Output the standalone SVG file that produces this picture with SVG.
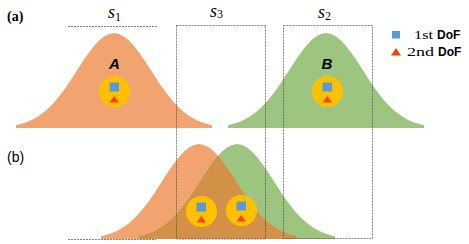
<svg xmlns="http://www.w3.org/2000/svg" xmlns:xlink="http://www.w3.org/1999/xlink" width="469" height="244" viewBox="0 0 469 244">
<style>
.orange{fill:#F1A46F}
.green{fill:#9DC57F}
.brown{fill:#D39148}
.dof{fill:#FFC000}
.sq{fill:#5B9BD5}
.tri{fill:#FF4000}
.box{fill:none;stroke:#555;stroke-width:1;stroke-dasharray:2 1;opacity:0.75}
.lbl{font-family:"Liberation Sans",Arial,sans-serif;font-weight:bold;font-style:italic;font-size:15px;fill:#000;text-anchor:middle}
.s{font-family:"Liberation Serif","Times New Roman",serif;font-style:italic;font-size:18px;fill:#000}
.sub{font-style:normal;font-size:12px}
.leg1{font-family:"Liberation Serif","Times New Roman",serif;font-size:12px;fill:#000}
.leg2{font-family:"Liberation Sans",Arial,sans-serif;font-weight:bold;font-size:12px;fill:#000}
</style>
<defs>
<path id="gauss" d="M-98,0 L-98,-2.8 L-95,-3.5 L-90,-4.9 L-85,-6.8 L-80,-9.2 L-75,-12.2 L-70,-15.9 L-65,-20.3 L-60,-25.5 L-55,-31.5 L-50,-38.1 L-45,-45.3 L-40,-53 L-35,-60.7 L-30,-68.4 L-25,-75.6 L-20,-82.1 L-15,-87.5 L-10,-91.6 L-5,-94.1 L0,-95 L5,-94.1 L10,-91.6 L15,-87.5 L20,-82.1 L25,-75.6 L30,-68.4 L35,-60.7 L40,-53 L45,-45.3 L50,-38.1 L55,-31.5 L60,-25.5 L65,-20.3 L70,-15.9 L75,-12.2 L80,-9.2 L85,-6.8 L90,-4.9 L95,-3.5 L98,-2.8 L98,0 Z"/>
<clipPath id="clipGreenB">
<use xlink:href="#gauss" transform="translate(237,239)"/>
</clipPath>
<g id="dofMark">
<circle cx="0" cy="0" r="15.5" class="dof"/>
<rect x="-5" y="-9" width="9.5" height="9" class="sq"/>
<polygon points="-5,11 4.5,11 -0.25,4.5" class="tri"/>
</g>
</defs>

<text x="7" y="21" font-family="'Liberation Serif','Times New Roman',serif" font-weight="bold" font-size="14" fill="#000">(a)</text>
<text x="7" y="162" font-family="'Liberation Sans',Arial,sans-serif" font-size="14" fill="#000">(b)</text>

<g id="curveA">
<use xlink:href="#gauss" transform="translate(114,128)" class="orange"/>
</g>
<g id="curveB">
<use xlink:href="#gauss" transform="translate(326,128)" class="green"/>
</g>
<g id="curvesMerged">
<use xlink:href="#gauss" transform="translate(199,239)" class="orange"/>
<use xlink:href="#gauss" transform="translate(237,239)" class="green"/>
<g clip-path="url(#clipGreenB)">
<use xlink:href="#gauss" transform="translate(199,239)" class="brown"/>
</g>
</g>

<g id="regions">
<line x1="68" y1="26.5" x2="157" y2="26.5" class="box"/>
<line x1="68" y1="239.5" x2="156" y2="239.5" class="box"/>
<rect x="176.5" y="25.5" width="89" height="213.5" class="box"/>
<rect x="283.5" y="25.5" width="89" height="213" class="box"/>
</g>

<g id="labelS1"><text x="108" y="18" class="s">s<tspan class="sub" dy="2.5">1</tspan></text></g>
<g id="labelS3"><text x="210" y="16.5" class="s">s<tspan class="sub" dy="1.5">3</tspan></text></g>
<g id="labelS2"><text x="318" y="18" class="s">s<tspan class="sub" dy="1.5">2</tspan></text></g>

<g id="nodeA">
<text x="114.5" y="69" class="lbl">A</text>
<use xlink:href="#dofMark" transform="translate(114.5,91.5)"/>
</g>
<g id="nodeB">
<text x="327" y="69" class="lbl">B</text>
<use xlink:href="#dofMark" transform="translate(327.5,91.5)"/>
</g>
<g id="nodeMerged1">
<use xlink:href="#dofMark" transform="translate(201.5,211.5)"/>
</g>
<g id="nodeMerged2">
<use xlink:href="#dofMark" transform="translate(241.5,210.5)"/>
</g>

<g id="legend">
<rect x="392" y="31" width="8" height="7.5" class="sq"/>
<text x="414" y="38.5" class="leg1" textLength="19" lengthAdjust="spacingAndGlyphs">1st</text>
<text x="437" y="38.5" class="leg2">DoF</text>
<polygon points="391,55.5 401,55.5 396,48" class="tri"/>
<text x="407" y="56" class="leg1" textLength="27" lengthAdjust="spacingAndGlyphs">2nd</text>
<text x="438" y="56" class="leg2">DoF</text>
</g>
</svg>
